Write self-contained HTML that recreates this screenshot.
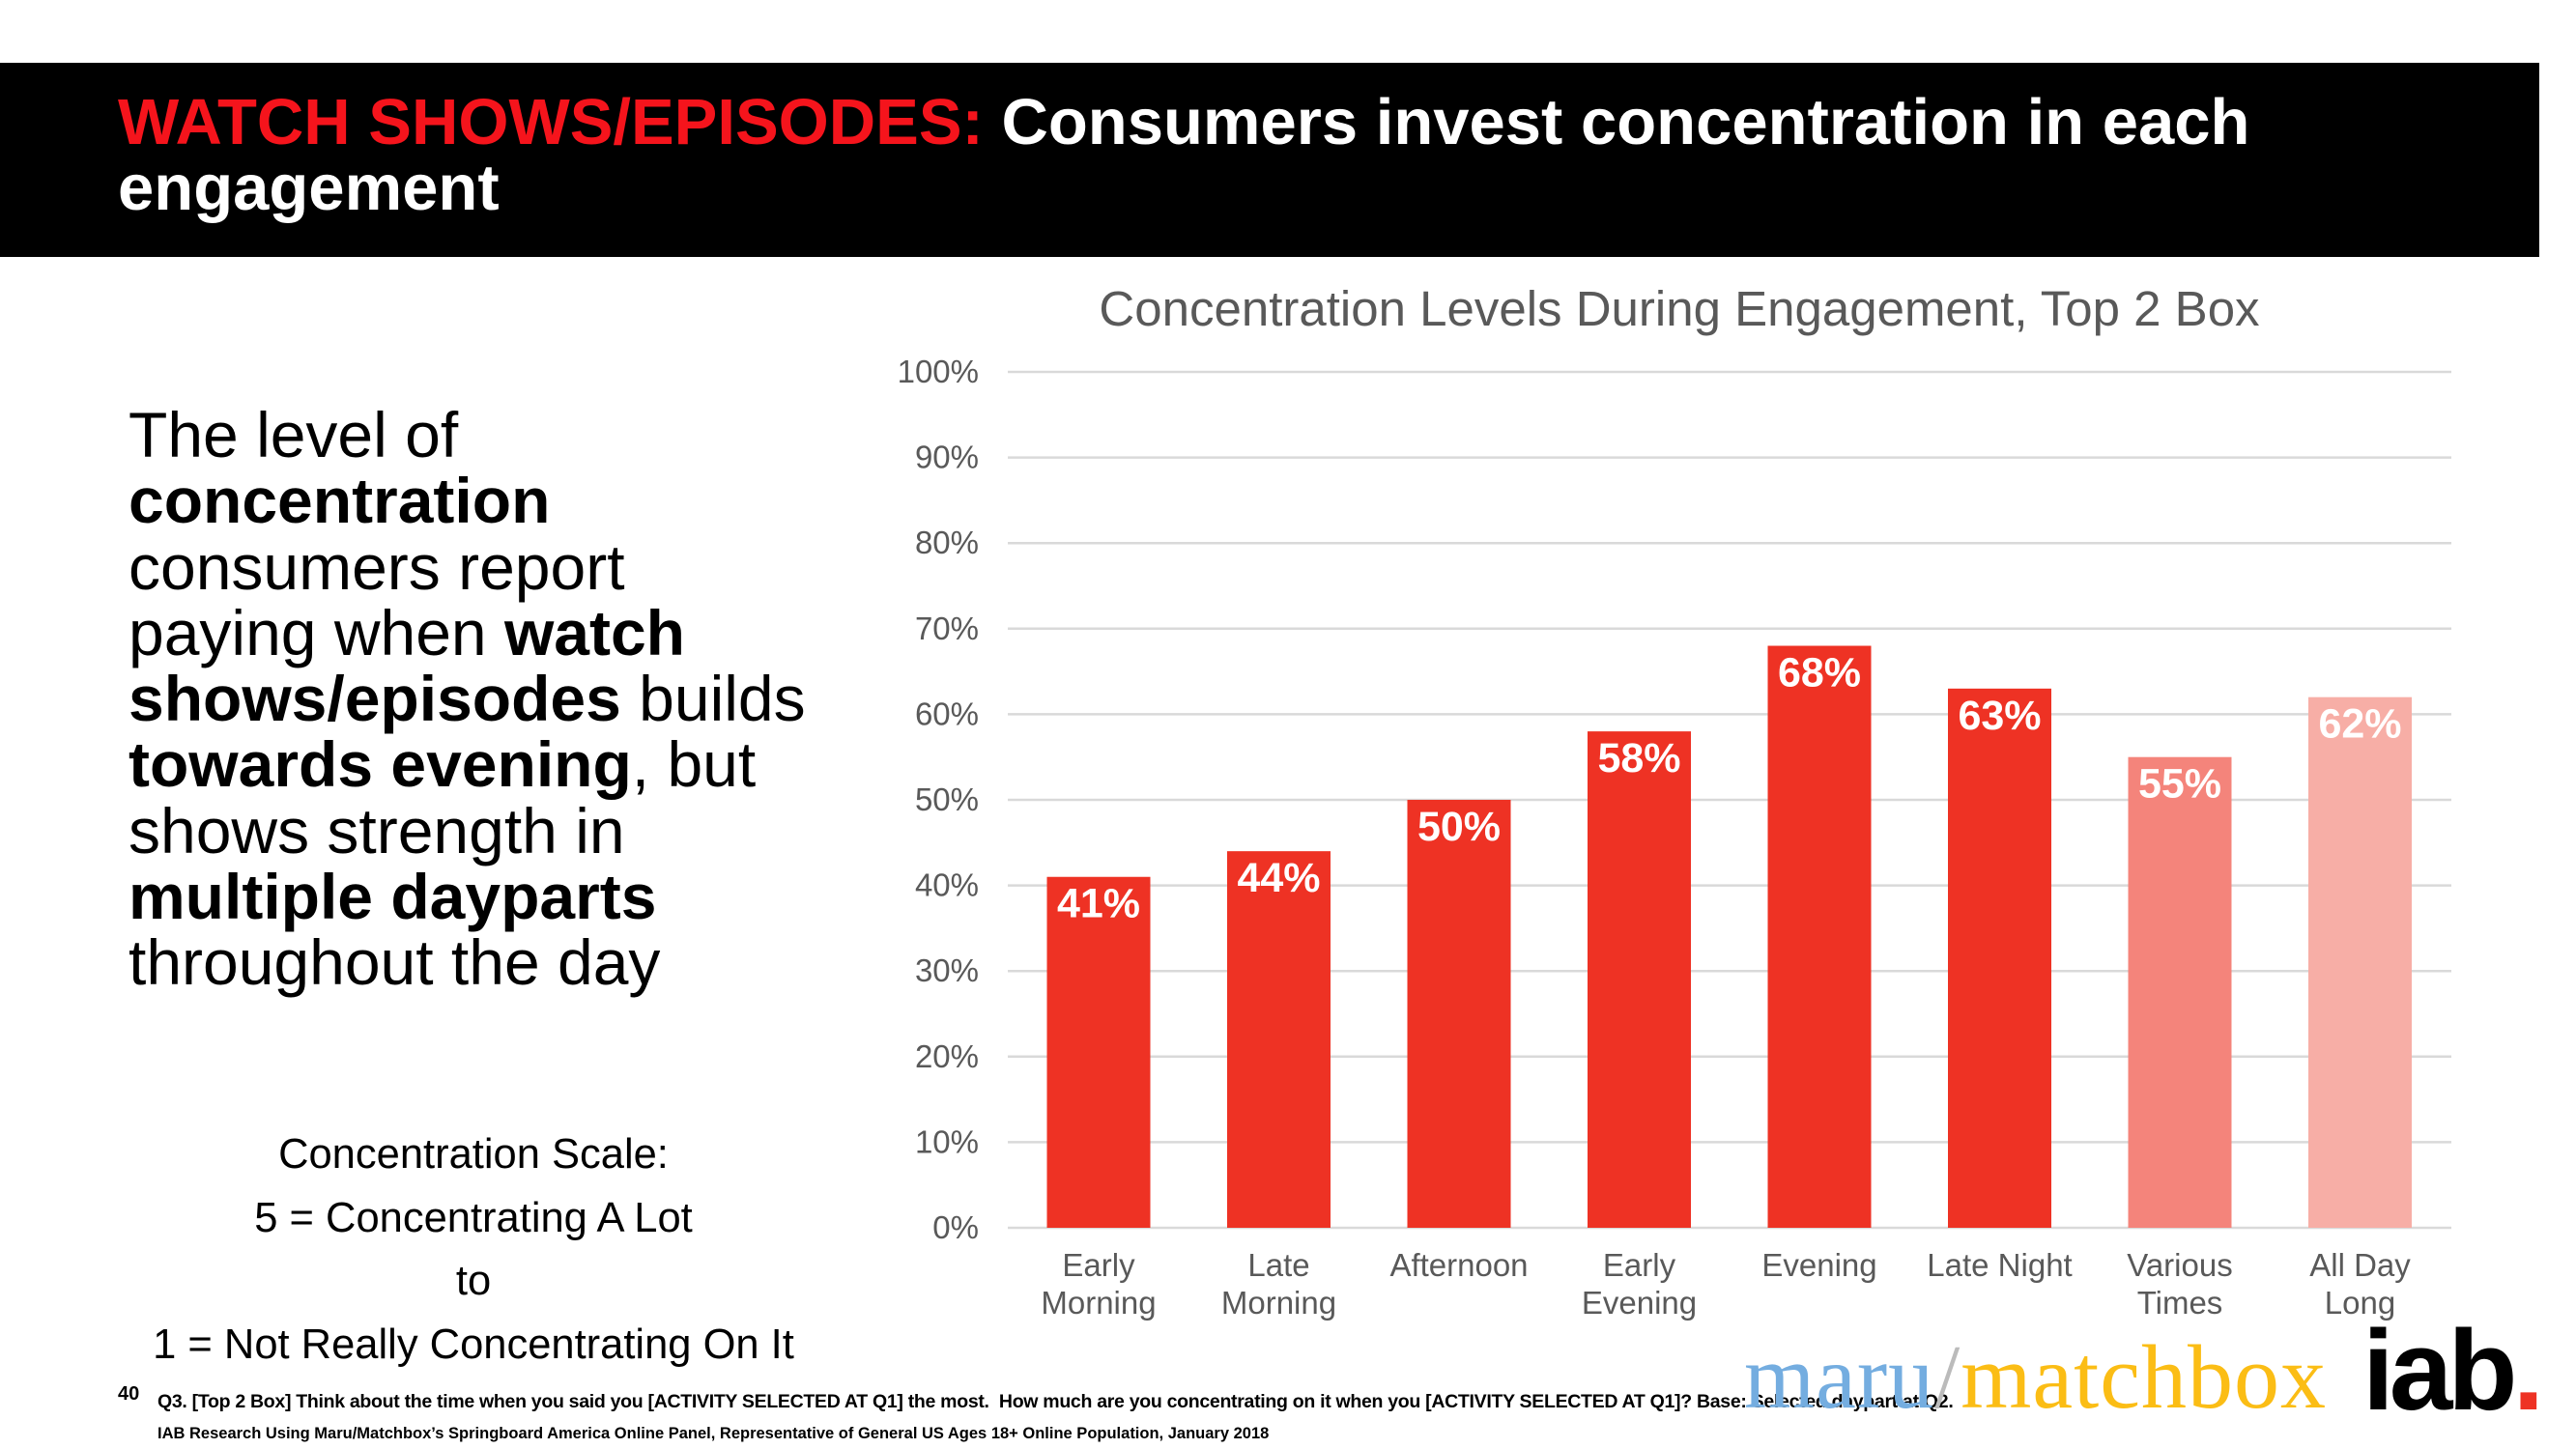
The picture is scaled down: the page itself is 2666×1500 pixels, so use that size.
<!DOCTYPE html>
<html><head><meta charset="utf-8"><style>
body{margin:0;width:2666px;height:1500px;background:#fff;position:relative;overflow:hidden;font-family:"Liberation Sans",Arial,sans-serif}
.a{position:absolute;white-space:nowrap}
</style></head><body>
<div class="a" style="left:0;top:65px;width:2628px;height:201px;background:#000"></div>
<div class="a" style="left:122px;top:93px;font-size:67px;font-weight:bold;color:#fff;line-height:68px;white-space:normal;width:2480px"><span style="color:#f5141c">WATCH SHOWS/EPISODES:</span> Consumers invest concentration in each engagement</div>
<div class="a" style="left:133px;top:416px;font-size:66px;line-height:68.3px;color:#000">The level of<br><b>concentration</b><br>consumers report<br>paying when <b>watch</b><br><b>shows/episodes</b> builds<br><b>towards evening</b>, but<br>shows strength in<br><b>multiple dayparts</b><br>throughout the day</div>
<div class="a" style="left:90px;width:800px;top:1163px;font-size:43.5px;line-height:65.5px;text-align:center;color:#000">Concentration Scale:<br>5 = Concentrating A Lot<br>to<br>1 = Not Really Concentrating On It</div>
<svg class="a" style="left:0;top:0" width="2666" height="1500" id="chart"></svg>
<div class="a" style="left:122px;top:1432px;font-size:20px;font-weight:bold">40</div>
<div class="a" style="left:163px;top:1440px;font-size:19.5px;font-weight:bold;letter-spacing:-0.3px">Q3. [Top 2 Box] Think about the time when you said you [ACTIVITY SELECTED AT Q1] the most.&nbsp; How much are you concentrating on it when you [ACTIVITY SELECTED AT Q1]? Base: Selected daypart at Q2.</div>
<div class="a" style="left:163px;top:1475px;font-size:16.5px;font-weight:bold">IAB Research Using Maru/Matchbox’s Springboard America Online Panel, Representative of General US Ages 18+ Online Population, January 2018</div>
<div class="a" style="left:1805px;top:1378px;font-family:'Liberation Serif',serif;font-size:94px;line-height:96px;letter-spacing:1px"><span style="color:#74ade0">maru</span><span style="color:#bbb">/</span><span style="color:#fbbd15">matchbox</span></div>
<div class="a" style="left:2445px;top:1360px;font-size:118px;font-weight:bold;line-height:118px;color:#000;letter-spacing:-5px">iab<span style="color:#ee3224">.</span></div>
<script>
const categories=[["Early","Morning"],["Late","Morning"],["Afternoon"],["Early","Evening"],["Evening"],["Late Night"],["Various","Times"],["All Day","Long"]];
const values=[41,44,50,58,68,63,55,62];
const barColors=["#ee3224","#ee3224","#ee3224","#ee3224","#ee3224","#ee3224","#f4847b","#f7aea6"];
const ticks=[0,10,20,30,40,50,60,70,80,90,100];
const NS="http://www.w3.org/2000/svg",svg=document.getElementById('chart');
const x0=1043,x1=2537,yBase=1271,yTop=385;
const y=v=>yBase-(yBase-yTop)*v/100;
const firstC=1137,step=186.5;
const xc=i=>firstC+step*i;
function mk(t,at){const e=document.createElementNS(NS,t);for(const k in at)e.setAttribute(k,at[k]);svg.appendChild(e);return e;}
const tt=mk('text',{x:1738,y:337,'text-anchor':'middle','font-size':51,fill:'#595959','font-family':'Liberation Sans, sans-serif'});
tt.textContent='Concentration Levels During Engagement, Top 2 Box';


ticks.forEach(t=>{
 const l=mk('line',{x1:x0,x2:x1,y1:y(t),y2:y(t),stroke:'#d9d9d9','stroke-width':2.5});
 
 
 const tx=mk('text',{x:1013,y:y(t)+11,'text-anchor':'end','font-size':33,fill:'#595959'});
 tx.textContent=t+'%';
 
 
});
const bw=107;
values.forEach((v,i)=>{
 const r=mk('rect',{x:xc(i)-bw/2,y:y(v),width:bw,height:yBase-y(v),fill:barColors[i]});
 
 
 const lb=mk('text',{x:xc(i),y:y(v)+42,'text-anchor':'middle','font-size':43,'font-weight':'bold',fill:'#fff'});
 lb.textContent=v+'%';
 
 
 categories[i].forEach((s,j)=>{
  const c=mk('text',{x:xc(i),y:1321+j*39,'text-anchor':'middle','font-size':33,fill:'#595959'});
  c.textContent=s;
  
  
 });
});
</script>
</body></html>
